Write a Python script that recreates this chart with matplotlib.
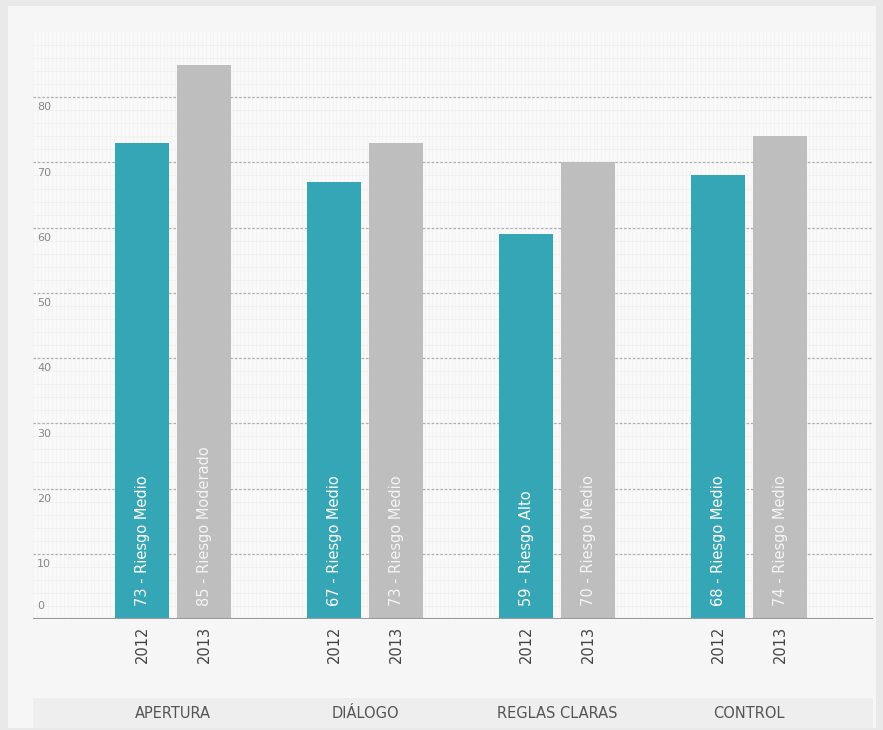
import numpy as np
import matplotlib.pyplot as plt
import matplotlib.transforms as mtransforms
from matplotlib.patches import Rectangle

plt.rcParams['font.family'] = ['Liberation Sans Narrow', 'DejaVu Sans']

# datos
categorias = ['APERTURA', 'DIÁLOGO', 'REGLAS CLARAS', 'CONTROL']
anios = ['2012', '2013']
valores_2012 = [73, 67, 59, 68]
valores_2013 = [85, 73, 70, 74]
riesgo_2012 = ['Riesgo Medio', 'Riesgo Medio', 'Riesgo Alto', 'Riesgo Medio']
riesgo_2013 = ['Riesgo Moderado', 'Riesgo Medio', 'Riesgo Medio', 'Riesgo Medio']
ticks_y = [0, 10, 20, 30, 40, 50, 60, 70, 80]

color_2012 = '#35a6b6'
color_2013 = '#bebebe'

fig = plt.figure(figsize=(8.83, 7.30), dpi=100, facecolor='#e9e9e9')
# panel de fondo
fig.patches.append(Rectangle((8 / 883, 2 / 730), 868 / 883, 722 / 730,
                             transform=fig.transFigure, facecolor='#f6f6f6',
                             edgecolor='none', zorder=-10))
# banda de categorias
fig.patches.append(Rectangle((33 / 883, 2 / 730), 840 / 883, 30 / 730,
                             transform=fig.transFigure, facecolor='#eeeeee',
                             edgecolor='none', zorder=-5))

ax = fig.add_axes([33 / 883, 111 / 730, 840 / 883, 587 / 730])
ax.set_facecolor('#f9f9f9')

x = np.arange(len(categorias))
ancho = 0.28
desp = 0.162
b1 = ax.bar(x - desp, valores_2012, ancho, color=color_2012, zorder=3)
b2 = ax.bar(x + desp, valores_2013, ancho, color=color_2013, zorder=3)

ax.set_xlim(-0.73, 3.645)
ax.set_ylim(0, 90)

# rejilla fina de fondo
for v in np.arange(0, 90, 2):
    ax.axhline(v, color='#eeeeee', lw=0.5, zorder=0)
for v in np.arange(-0.73, 3.645, 0.02):
    ax.axvline(v, color='#f1f1f1', lw=0.4, zorder=0)

for v in ticks_y[1:]:
    ax.axhline(v, color='#b0b0b0', lw=0.9, ls=(0, (2, 1.5)), zorder=1)
ax.axhline(0, color='#9a9a9a', lw=1.5, zorder=4)

for s in ax.spines.values():
    s.set_visible(False)
ax.set_xticks([])
ax.set_yticks([])

# etiquetas del eje y dentro del area
for v in ticks_y:
    if v == 0:
        ax.text(0.005, v + 1.2, str(v), transform=ax.get_yaxis_transform(),
                fontsize=8, color='#888888', va='bottom', ha='left')
    else:
        ax.text(0.005, v - 0.8, str(v), transform=ax.get_yaxis_transform(),
                fontsize=8, color='#888888', va='top', ha='left')

# textos dentro de las barras
for i in range(len(categorias)):
    ax.text(x[i] - desp, 2, '%d - %s' % (valores_2012[i], riesgo_2012[i]),
            rotation=90, ha='center', va='bottom', color='white', fontsize=10.5, zorder=5)
    ax.text(x[i] + desp, 2, '%d - %s' % (valores_2013[i], riesgo_2013[i]),
            rotation=90, ha='center', va='bottom', color='#f4f4f4', fontsize=10.5, zorder=5)

# anios bajo las barras
trans = mtransforms.blended_transform_factory(ax.transData, fig.transFigure)
for i in range(len(categorias)):
    for j, a in enumerate(anios):
        xx = x[i] - desp if j == 0 else x[i] + desp
        ax.text(xx, 104 / 730, a, rotation=90, ha='center', va='top',
                transform=trans, fontsize=10.5, color='#444444', clip_on=False)
    ax.text(x[i], 17 / 730, categorias[i], ha='center', va='center',
            transform=trans, fontsize=10.5, color='#555555', clip_on=False)

fig.savefig('out.png', dpi=100, facecolor=fig.get_facecolor())
